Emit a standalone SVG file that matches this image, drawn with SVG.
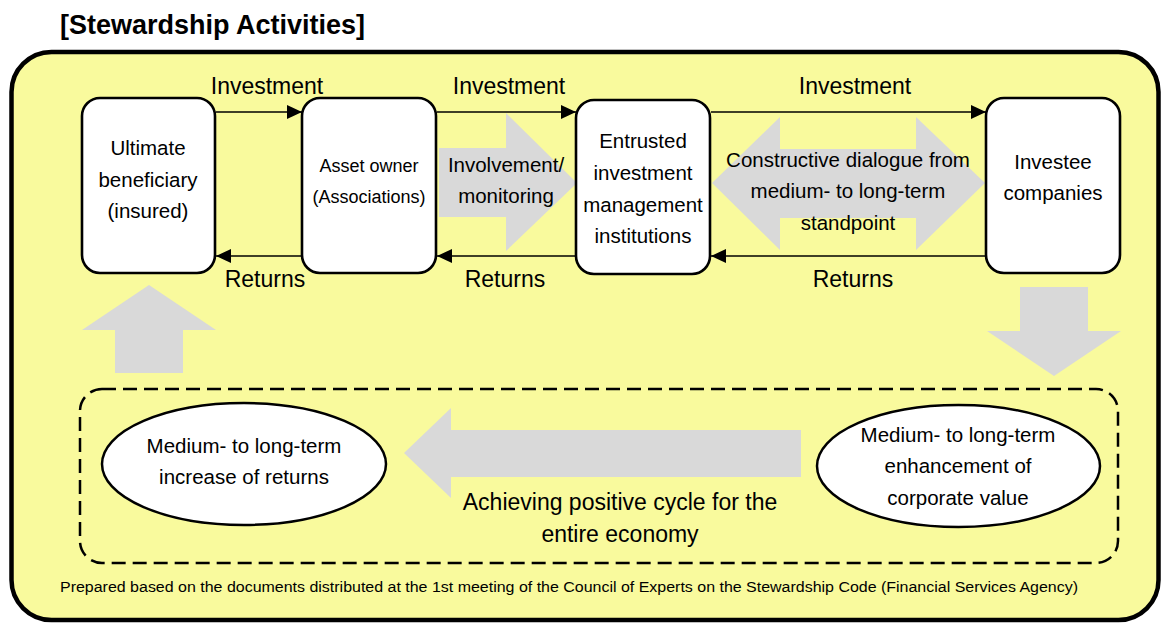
<svg xmlns="http://www.w3.org/2000/svg" width="1163" height="624" viewBox="0 0 1163 624">
<defs>
<style>
text{font-family:"Liberation Sans",Arial,sans-serif;fill:#000;text-anchor:middle}
.box{fill:#fff;stroke:#000;stroke-width:2.6}
.conn{stroke:#000;stroke-width:1.5;fill:none}
.fat{fill:#d9d9d9;stroke:none}
.lbl{font-size:23px}
.t20{font-size:20.5px}
</style>
<marker id="ah" markerUnits="userSpaceOnUse" viewBox="0 0 15 14" markerWidth="15" markerHeight="14" refX="15" refY="7" orient="auto">
<path d="M0,0 L15,7 L0,14 z" fill="#000"/>
</marker>
</defs>
<text x="60" y="34" style="font-size:27px;font-weight:bold;text-anchor:start">[Stewardship Activities]</text>
<rect x="11.5" y="52" width="1147" height="568" rx="40" fill="#f9fa9d" stroke="#000" stroke-width="4.5"/>

<g id="fat-arrows">
<polygon class="fat" points="439,148 506,148 506,113 577,183 506,251 506,217 439,217"/>
<polygon class="fat" points="712,183 780,117 780,149 916,149 916,117 985,183 916,250 916,218 780,218 780,250"/>
<polygon class="fat" points="149,285 216,330 183,330 183,373 115,373 115,330 82,330"/>
<polygon class="fat" points="1020,287 1088,287 1088,331 1121,331 1054,376 987,331 1020,331"/>
<polygon class="fat" points="404,453 451,408 451,430 801,430 801,477 451,477 451,498"/>
</g>

<g id="connectors">
<line class="conn" x1="216" y1="112" x2="302" y2="112" marker-end="url(#ah)"/>
<line class="conn" x1="437" y1="112" x2="576" y2="112" marker-end="url(#ah)"/>
<line class="conn" x1="711" y1="112" x2="986" y2="112" marker-end="url(#ah)"/>
<line class="conn" x1="302" y1="256" x2="216" y2="256" marker-end="url(#ah)"/>
<line class="conn" x1="576" y1="256" x2="437" y2="256" marker-end="url(#ah)"/>
<line class="conn" x1="986" y1="256" x2="711" y2="256" marker-end="url(#ah)"/>
<text class="lbl" x="267" y="94">Investment</text>
<text class="lbl" x="509" y="94">Investment</text>
<text class="lbl" x="855" y="94">Investment</text>
<text class="lbl" x="265" y="287">Returns</text>
<text class="lbl" x="505" y="287">Returns</text>
<text class="lbl" x="853" y="287">Returns</text>
<text class="t20" x="506" y="172">Involvement/</text>
<text class="t20" x="506" y="203">monitoring</text>
<text class="t20" x="848" y="167">Constructive dialogue from</text>
<text class="t20" x="848" y="198">medium- to long-term</text>
<text class="t20" x="848" y="230">standpoint</text>
</g>

<g id="ultimate-beneficiary">
<rect class="box" x="82" y="98" width="133" height="175" rx="18"/>
<text class="t20" x="148" y="155">Ultimate</text>
<text class="t20" x="148" y="187">beneficiary</text>
<text class="t20" x="148" y="218">(insured)</text>
</g>
<g id="asset-owner">
<rect class="box" x="302" y="98" width="134" height="175" rx="18"/>
<text x="369" y="172" style="font-size:18px">Asset owner</text>
<text x="369" y="203" style="font-size:18px">(Associations)</text>
</g>
<g id="entrusted-institutions">
<rect class="box" x="576" y="100" width="134" height="174" rx="18"/>
<text class="t20" x="643" y="148">Entrusted</text>
<text class="t20" x="643" y="180">investment</text>
<text class="t20" x="643" y="212">management</text>
<text class="t20" x="643" y="243">institutions</text>
</g>
<g id="investee-companies">
<rect class="box" x="986" y="98" width="134" height="175" rx="18"/>
<text class="t20" x="1053" y="169">Investee</text>
<text class="t20" x="1053" y="200">companies</text>
</g>

<g id="positive-cycle">
<rect x="80" y="389" width="1038" height="174" rx="22" fill="none" stroke="#000" stroke-width="2.5" stroke-dasharray="14 7"/>
<text class="lbl" x="620" y="510">Achieving positive cycle for the</text>
<text class="lbl" x="620" y="542">entire economy</text>
</g>
<g id="increase-of-returns">
<ellipse cx="244" cy="464" rx="142" ry="61" fill="#fff" stroke="#000" stroke-width="2.5"/>
<text class="t20" x="244" y="453">Medium- to long-term</text>
<text class="t20" x="244" y="484">increase of returns</text>
</g>
<g id="corporate-value">
<ellipse cx="958.5" cy="466" rx="141.5" ry="61" fill="#fff" stroke="#000" stroke-width="2.5"/>
<text class="t20" x="958" y="442">Medium- to long-term</text>
<text class="t20" x="958" y="473">enhancement of</text>
<text class="t20" x="958" y="505">corporate value</text>
</g>

<text x="60" y="592" textLength="1018" lengthAdjust="spacingAndGlyphs" style="font-size:14px;text-anchor:start">Prepared based on the documents distributed at the 1st meeting of the Council of Experts on the Stewardship Code (Financial Services Agency)</text>
</svg>
